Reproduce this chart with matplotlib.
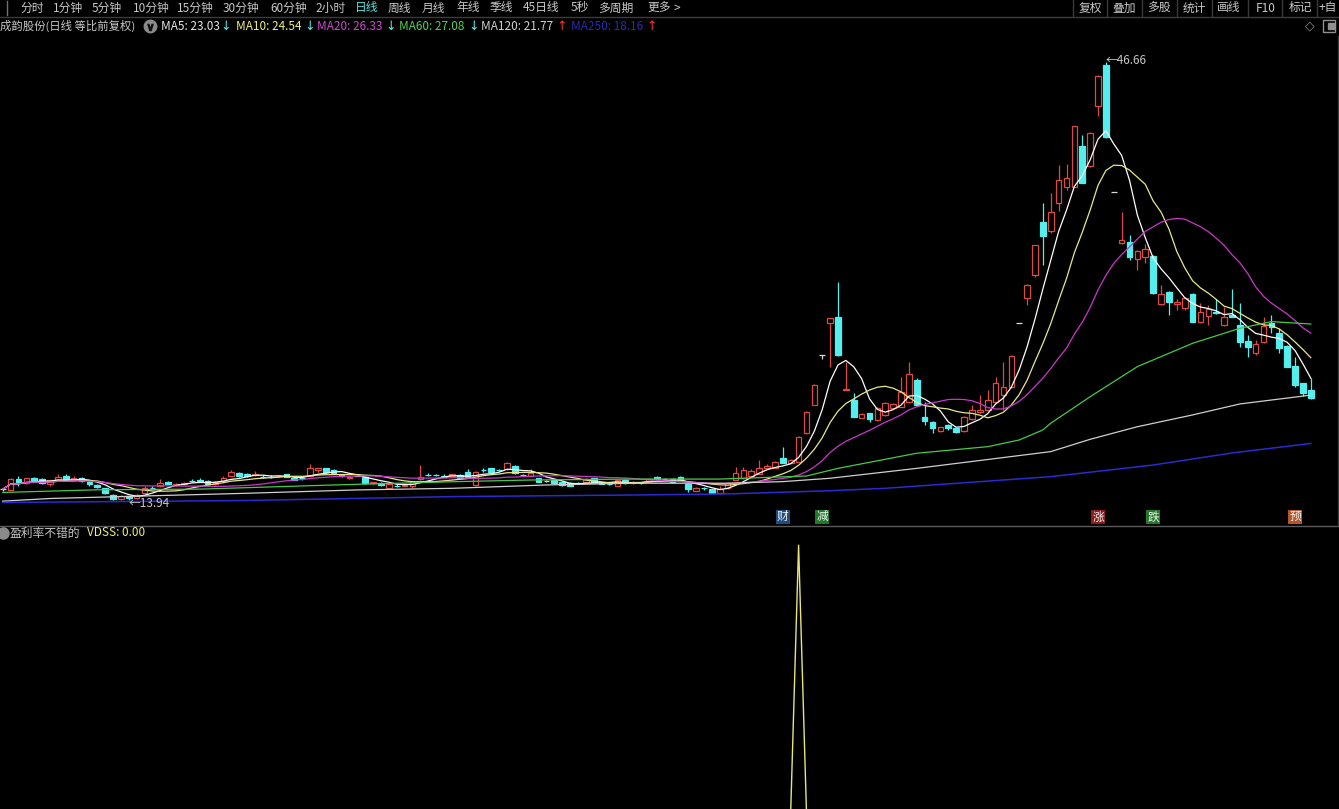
import matplotlib
matplotlib.use('Agg')
import matplotlib.pyplot as plt
from matplotlib.lines import Line2D
import numpy as np
import pandas as pd

plt.rcParams['font.family'] = ['Noto Sans CJK SC', 'DejaVu Sans']

# --- daily bars (等比前复权) ---
opens = [14.74, 14.69, 15.51, 15.19, 15.56, 15.48, 15.10, 15.43, 15.73, 15.45,
         15.60, 15.25, 15.06, 14.80, 14.31, 14.00, 14.20, 14.05, 14.45, 14.86,
         14.95, 15.30, 15.05, 15.10, 15.37, 15.41, 15.36, 15.12, 15.36, 15.75,
         15.95, 15.85, 15.80, 15.69, 15.69, 15.70, 15.85, 15.60, 15.57, 15.76,
         16.18, 16.31, 16.18, 15.80, 15.55, 15.75, 15.68, 15.20, 15.20, 14.80,
         15.01, 15.00, 15.00, 15.50, 15.81, 15.79, 15.71, 15.70, 15.80, 16.05,
         15.06, 16.19, 16.31, 16.19, 16.23, 16.48, 15.82, 15.73, 15.56, 15.32,
         15.43, 15.31, 15.19, 15.20, 15.31, 15.56, 15.23, 15.14, 15.01, 15.43,
         15.19, 15.20, 15.39, 15.68, 15.50, 15.49, 15.68, 15.13, 14.63, 14.82,
         14.74, 14.44, 14.81, 15.43, 15.56, 15.73, 15.88, 16.35, 16.35, 17.05,
         16.73, 16.80, 18.92, 21.03, 24.78, 27.14, 27.63, 22.18, 21.41, 20.09,
         20.41, 19.91, 20.29, 20.79, 20.91, 21.28, 22.90, 20.16, 19.79, 19.11,
         19.52, 19.29, 19.11, 19.97, 20.49, 20.66, 21.28, 21.78, 22.40, 27.16,
         29.00, 30.74, 34.72, 34.05, 36.14, 37.34, 37.34, 40.38, 38.88, 43.37,
         46.43, 36.96, 33.11, 33.23, 31.92, 32.11, 32.16, 28.58, 29.50, 28.58,
         28.26, 29.32, 27.25, 27.68, 28.00, 27.01, 27.76, 27.01, 25.84, 24.90,
         25.76, 27.18, 26.39, 25.44, 23.95, 22.66, 22.15]
highs = [14.86, 15.55, 15.75, 15.60, 15.62, 15.55, 15.45, 15.85, 15.90, 15.70,
         15.65, 15.30, 15.12, 14.85, 14.35, 14.30, 14.25, 14.35, 14.95, 14.95,
         15.50, 15.35, 15.20, 15.25, 15.50, 15.55, 15.40, 15.35, 15.70, 16.20,
         16.00, 15.95, 16.10, 15.80, 15.80, 15.80, 15.90, 15.65, 15.65, 16.60,
         16.33, 16.35, 16.25, 15.85, 15.70, 15.80, 15.72, 15.30, 15.25, 15.20,
         15.10, 15.10, 15.35, 16.55, 15.95, 15.90, 15.85, 15.90, 15.85, 16.25,
         16.10, 16.30, 16.35, 16.25, 16.80, 16.55, 15.90, 16.23, 15.60, 15.40,
         15.50, 15.35, 15.25, 15.30, 15.55, 15.60, 15.28, 15.20, 15.48, 15.48,
         15.35, 15.28, 15.55, 15.75, 15.58, 15.55, 15.75, 15.20, 14.88, 14.90,
         14.78, 14.95, 15.31, 16.38, 16.43, 16.25, 16.93, 16.60, 16.85, 17.92,
         17.00, 18.70, 20.60, 22.60, 24.78, 27.51, 30.24, 24.25, 21.91, 20.40,
         20.45, 20.85, 21.25, 21.15, 23.15, 24.27, 23.03, 21.28, 19.85, 19.40,
         19.60, 19.35, 20.20, 21.03, 21.78, 22.15, 23.15, 24.27, 24.75, 27.16,
         30.05, 33.00, 36.12, 36.84, 38.96, 39.03, 41.90, 41.20, 41.40, 45.65,
         46.66, 36.96, 35.47, 33.70, 32.60, 33.06, 32.20, 30.00, 29.55, 28.93,
         29.12, 29.40, 28.63, 28.50, 28.93, 28.33, 29.67, 28.63, 26.26, 25.90,
         27.63, 27.76, 26.76, 25.50, 24.60, 22.70, 23.03]
lows = [14.60, 14.65, 14.95, 15.15, 15.25, 15.10, 15.00, 15.40, 15.40, 15.40,
        15.30, 15.00, 14.85, 14.40, 13.97, 13.96, 13.94, 14.00, 14.40, 14.75,
        14.90, 15.10, 15.00, 15.05, 15.25, 15.30, 15.05, 15.08, 15.30, 15.70,
        15.65, 15.65, 15.75, 15.60, 15.60, 15.65, 15.62, 15.40, 15.45, 15.70,
        16.05, 16.00, 15.90, 15.65, 15.50, 15.70, 15.15, 15.15, 15.00, 14.75,
        14.90, 14.95, 14.85, 15.45, 15.75, 15.70, 15.65, 15.65, 15.55, 15.55,
        15.00, 16.05, 16.00, 16.10, 16.20, 15.85, 15.75, 15.70, 15.25, 15.25,
        15.15, 15.00, 14.95, 15.10, 15.25, 15.28, 15.10, 15.05, 14.95, 15.15,
        15.15, 15.10, 15.35, 15.45, 15.42, 15.28, 15.40, 14.56, 14.58, 14.72,
        14.45, 14.40, 14.75, 15.40, 15.50, 15.70, 15.85, 16.25, 16.30, 16.70,
        16.70, 16.75, 18.90, 21.00, 24.50, 23.90, 24.70, 22.18, 20.10, 20.05,
        19.79, 19.85, 20.20, 20.70, 20.85, 21.20, 20.95, 19.54, 18.97, 19.05,
        19.17, 18.92, 19.05, 19.90, 20.40, 20.60, 21.20, 20.66, 22.30, 27.16,
        28.50, 30.60, 31.49, 33.90, 35.50, 37.09, 37.30, 37.60, 38.80, 42.65,
        41.00, 36.96, 33.05, 31.86, 31.12, 31.62, 29.35, 28.50, 27.76, 28.13,
        28.13, 27.20, 27.13, 27.01, 27.85, 26.95, 27.60, 25.39, 24.64, 24.75,
        25.64, 26.39, 24.90, 23.85, 22.40, 21.71, 21.50]
closes = [14.74, 15.51, 15.19, 15.56, 15.36, 15.19, 15.40, 15.68, 15.43, 15.55,
          15.35, 15.10, 14.93, 14.44, 13.99, 14.25, 14.10, 14.30, 14.80, 14.84,
          15.20, 15.15, 15.15, 15.20, 15.35, 15.39, 15.10, 15.30, 15.60, 16.00,
          15.70, 15.75, 15.85, 15.67, 15.67, 15.75, 15.66, 15.45, 15.55, 16.31,
          16.31, 16.05, 15.93, 15.70, 15.65, 15.75, 15.19, 15.25, 15.05, 15.10,
          14.99, 15.05, 15.30, 15.68, 15.79, 15.77, 15.69, 15.85, 15.60, 15.63,
          16.05, 16.17, 16.05, 16.17, 16.73, 15.93, 15.80, 15.93, 15.31, 15.32,
          15.19, 15.06, 15.01, 15.18, 15.49, 15.31, 15.13, 15.12, 15.43, 15.19,
          15.31, 15.18, 15.49, 15.49, 15.48, 15.31, 15.43, 14.74, 14.81, 14.80,
          14.49, 14.74, 15.19, 15.93, 16.18, 16.11, 16.31, 16.45, 16.80, 16.73,
          16.93, 18.67, 20.53, 22.53, 24.78, 27.51, 24.77, 22.22, 20.16, 20.36,
          19.97, 20.79, 21.21, 21.11, 22.03, 23.35, 21.03, 19.86, 19.29, 19.37,
          19.29, 19.04, 20.16, 20.66, 20.66, 21.41, 22.65, 22.40, 24.69, 27.16,
          29.99, 32.98, 33.65, 35.47, 37.84, 37.97, 41.87, 37.64, 41.37, 45.60,
          41.07, 36.96, 33.36, 32.07, 32.54, 32.66, 29.42, 29.32, 28.75, 28.75,
          29.00, 27.25, 28.00, 28.18, 27.89, 27.58, 27.63, 25.76, 25.34, 25.59,
          26.93, 26.88, 25.27, 23.90, 22.53, 21.95, 21.53]

# long moving averages at sample bars
ma60_idx = [0, 12, 25, 42, 57, 67, 80, 91, 102, 106, 116, 125, 129, 132, 133, 138, 144, 151, 157, 161, 166]
ma60_val = [14.50, 14.70, 14.75, 15.06, 15.30, 15.43, 15.50, 15.50, 15.73, 16.30, 17.43, 17.92,
            18.42, 19.17, 19.67, 21.65, 23.90, 25.64, 26.76, 27.26, 27.08]
ma120_idx = [0, 6, 31, 45, 57, 69, 80, 92, 99, 105, 116, 133, 138, 144, 151, 157, 166]
ma120_val = [13.85, 14.05, 14.44, 14.69, 14.81, 15.06, 15.19, 15.19, 15.31, 15.56, 16.30, 17.55,
             18.47, 19.41, 20.29, 21.11, 21.77]
ma250_idx = [0, 31, 57, 80, 92, 105, 112, 133, 146, 156, 166]
ma250_val = [13.75, 13.90, 14.19, 14.31, 14.39, 14.63, 14.81, 15.68, 16.55, 17.45, 18.16]

# event tags under the k-line
event_idx = [99, 104, 139, 146, 164]
event_txt = ['财', '减', '涨', '跌', '预']
event_bg = ['#1d4e7e', '#1f7a2a', '#8b1c1c', '#237a2a', '#b0582a']

# VDSS indicator (single signal bar)
vdss = [0.0] * 101 + [1.0] + [0.0] * 65

legend_txt = ['MA5: 23.03', 'MA10: 24.54', 'MA20: 26.33', 'MA60: 27.08', 'MA120: 21.77', 'MA250: 18.16']
legend_arrow = ['↓', '↓', '↓', '↓', '↑', '↑']

toolbar = ['分时', '1分钟', '5分钟', '10分钟', '15分钟', '30分钟', '60分钟', '2小时', '日线',
           '周线', '月线', '年线', '季线', '45日线', '5秒', '多周期', '更多']
toolbar_x = [20, 53, 92, 133, 177, 223, 270, 315, 355, 388, 422, 456, 490, 523, 571, 598, 647]
right_btns = ['复权', '叠加', '多股', '统计', '画线', 'F10', '标记', '+自']
right_x = [1090, 1124, 1159, 1194, 1229, 1266, 1300, 1328]
right_sep = [1073, 1107, 1142, 1177, 1212, 1248, 1282, 1317]

# --- colors ---
RED = '#dc4b43'
CYAN = '#55eeee'
GREY = '#c8c8c8'
ma_colors = ['#ffffff', '#e8e88a', '#c838c8', '#48c848', '#cfcfcf', '#2a2ad0']
txt_colors = ['#e8e8e8', '#f0f07a', '#d048d0', '#50d050', '#d0d0d0', '#2a2ab8']

W, H = 1339, 809
fig = plt.figure(figsize=(W / 100, H / 100), dpi=100, facecolor='black')


def fx(x):
    return x / W


def fy(y):
    return 1 - y / H


def hline(y, x0, x1, color, lw=1.0):
    fig.add_artist(Line2D([fx(x0), fx(x1)], [fy(y), fy(y)], color=color, lw=lw))


def vline(x, y0, y1, color, lw=1.0):
    fig.add_artist(Line2D([fx(x), fx(x)], [fy(y0), fy(y1)], color=color, lw=lw))


# --- main k-line panel ---
ax = fig.add_axes([0, fy(525), 1, (525 - 36) / H])
ax.set_facecolor('black')
n = len(closes)
idx = np.arange(n)
o = np.array(opens)
c = np.array(closes)
hi = np.array(highs)
lo = np.array(lows)
up = c > o
dn = c < o
col = np.where(up, RED, np.where(dn, CYAN, '#d8d8d8'))
face = np.where(up, 'black', col)

ax.vlines(idx, lo, hi, colors=col, lw=0.9, zorder=2)
ax.bar(idx, np.maximum(np.abs(c - o), 0.012), bottom=np.minimum(o, c), width=0.72,
       color=face, edgecolor=col, linewidth=0.9, zorder=3)

cs = pd.Series(closes)
for win, colr in zip([5, 10, 20], ma_colors[:3]):
    ax.plot(idx, cs.rolling(win, min_periods=1).mean(), color=colr, lw=0.9, zorder=4)
ax.plot(ma60_idx, ma60_val, color=ma_colors[3], lw=0.9, zorder=4)
ax.plot(ma120_idx, ma120_val, color=ma_colors[4], lw=0.9, zorder=4)
ax.plot(ma250_idx, ma250_val, color=ma_colors[5], lw=1.1, zorder=4)

# high / low marks
ax.text(16, 13.68, '←13.94', color=GREY, fontsize=8.5, ha='left', va='center', zorder=5)
ax.text(140, 46.75, '←46.66', color=GREY, fontsize=8.5, ha='left', va='center', zorder=5)

for i, t, bg in zip(event_idx, event_txt, event_bg):
    ax.text(i, 12.67, t, color='#f0f0f0', fontsize=8.5, ha='center', va='center', zorder=6,
            bbox=dict(boxstyle='square,pad=0.08', fc=bg, ec='none'))

ax.set_xlim(-2.7 / 7.88, (W - 2.7) / 7.88)
ax.set_ylim(12.07, 48.59)
ax.axis('off')

# --- VDSS panel ---
ax2 = fig.add_axes([0, 0, 1, (809 - 526) / H])
ax2.plot(idx, vdss, color='#e6e67a', lw=1.0)
ax2.set_xlim(ax.get_xlim())
ax2.set_ylim(0.01, 1.072)
ax2.axis('off')

# --- frame lines ---
hline(16.5, 0, W, '#3c3c3c')
hline(525.5, 0, W, '#5a5a5a')
vline(7, 1, 15, '#707070')
vline(1337.5, 36, 525, '#3a3a3a')
for x in right_sep:
    vline(x, 0, 16, '#3a3a3a')

# --- toolbar ---
for t, x in zip(toolbar, toolbar_x):
    fig.text(fx(x), fy(8), t, color='#5ae0e0' if t == '日线' else GREY, fontsize=8.5,
             ha='left', va='center')
fig.text(fx(674), fy(8), '>', color=GREY, fontsize=8.5, ha='left', va='center')
for t, x in zip(right_btns, right_x):
    fig.text(fx(x), fy(8), t, color=GREY, fontsize=8.5, ha='center', va='center')

# --- title / MA legend row ---
fig.text(fx(0), fy(26), '成韵股份(日线 等比前复权)', color=GREY, fontsize=8.2, ha='left', va='center')
fig.add_artist(Line2D([fx(150)], [fy(26)], marker='o', ms=9, color='#8a8a8a'))
fig.add_artist(Line2D([fx(150)], [fy(26.5)], marker=r'$\vee$', ms=4.5, color='#111111'))
leg_x = [161, 236, 317, 399, 481, 571]
arr_x = [220, 304, 385, 468, 556, 646]
for t, a, x, xa, tc in zip(legend_txt, legend_arrow, leg_x, arr_x, txt_colors):
    fig.text(fx(x), fy(26), t, color=tc, fontsize=8.5, ha='left', va='center')
    fig.text(fx(xa), fy(26), a, color=CYAN if a == '↓' else '#ff3030', fontsize=9,
             ha='left', va='center', family='DejaVu Sans')
fig.text(fx(1310), fy(26), '◇', color='#909090', fontsize=9, ha='center', va='center',
         family='DejaVu Sans')
fig.add_artist(Line2D([fx(1329)], [fy(26)], marker='s', ms=8, mfc='none', mec='#909090', mew=1))
fig.add_artist(Line2D([fx(1330.5)], [fy(26)], marker='s', ms=4, color='#909090'))

# --- indicator title ---
fig.add_artist(Line2D([fx(3)], [fy(533)], marker='o', ms=8, color='#8a8a8a'))
fig.text(fx(10), fy(533), '盈利率不错的', color=GREY, fontsize=8.5, ha='left', va='center')
fig.text(fx(87), fy(533), 'VDSS: 0.00', color='#f0f07a', fontsize=8.5, ha='left', va='center')

fig.savefig('out.png', dpi=100, facecolor='black')
